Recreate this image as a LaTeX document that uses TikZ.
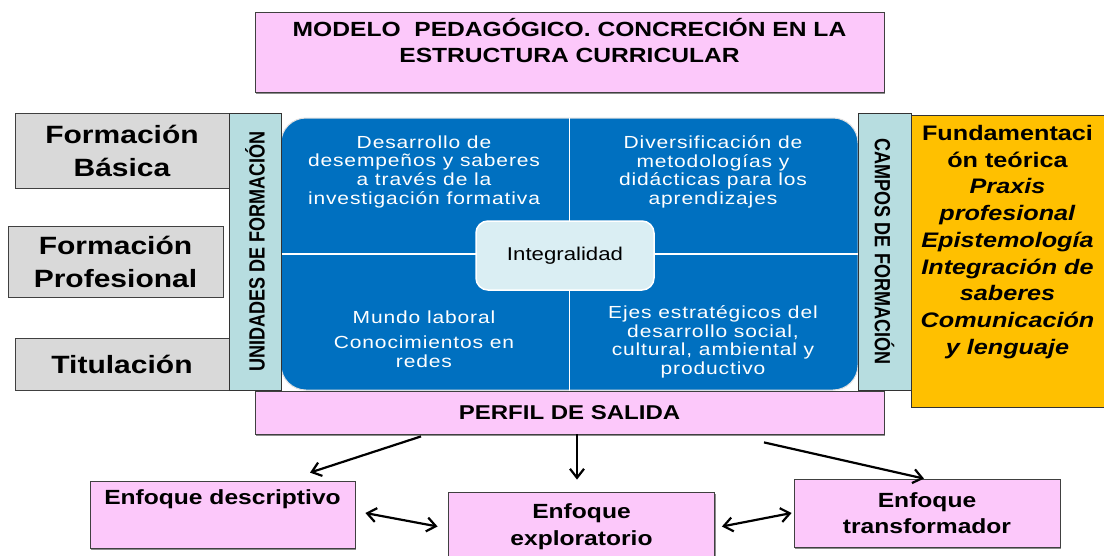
\documentclass[tikz,border=0pt]{standalone}
\usepackage{fontspec}
\setmainfont[FakeStretch=1.2]{Liberation Sans}
\newfontfamily\narrowfont[FakeStretch=0.82]{Liberation Sans}
\newfontfamily\widefont[FakeStretch=1.2, LetterSpace=5]{Liberation Sans}
\usetikzlibrary{positioning,arrows.meta,shadows}

\definecolor{pinkfill}{HTML}{FCC8FA}
\definecolor{grayfill}{HTML}{D9D9D9}
\definecolor{barfill}{HTML}{B7DDE0}
\definecolor{coreblue}{HTML}{0070C0}
\definecolor{integfill}{HTML}{DAEEF3}
\definecolor{orangefill}{HTML}{FFC000}

\tikzset{
    pinkbox/.style={draw=black!75, fill=pinkfill, line width=0.8pt,
        drop shadow={shadow xshift=1.2pt, shadow yshift=-1.5pt, fill=black!45, opacity=1}},
    graybox/.style={draw=black!75, fill=grayfill, line width=1pt, align=center,
        font=\bfseries\fontsize{25}{33}\selectfont},
    sidebar/.style={draw=black!80, fill=barfill, line width=1pt,
        font=\narrowfont\bfseries\fontsize{22}{22}\selectfont},
    quadtext/.style={text=white, align=center, font=\widefont\fontsize{17.5}{18.7}\selectfont},
    boldtext/.style={align=center, font=\bfseries\fontsize{20.5}{26.5}\selectfont},
    arrowline/.style={-{Straight Barb[length=9pt,width=14pt]}, line width=2.2pt},
    twoway/.style={{Straight Barb[length=9pt,width=14pt]}-{Straight Barb[length=9pt,width=14pt]}, line width=2.2pt}
}

\begin{document}
\begin{tikzpicture}[x=1pt, y=-1pt]
    \fill[white] (0,0) rectangle (1104,555);
    \useasboundingbox (0,0) rectangle (1104,555);

    % Title
    \node[pinkbox, minimum width=629pt, minimum height=80pt] (title) at (569.5,52) {};
    \node[boldtext, below=3pt of title.north] (titletxt) {MODELO\ \ PEDAGÓGICO. CONCRECIÓN EN LA\\ESTRUCTURA CURRICULAR};

    % Units on the left
    \node[graybox, minimum width=214pt, minimum height=75pt] (basica) at (122,150.5) {Formación\\Básica};
    \node[graybox, minimum width=215pt, minimum height=71pt] (profesional) at (115.5,261.5) {Formación\\Profesional};
    \node[graybox, minimum width=214pt, minimum height=52pt] (titulacion) at (122,364) {Titulación};

    % Central block
    \node[draw=white!75!gray, fill=coreblue, line width=1pt, rounded corners=25pt,
        minimum width=577pt, minimum height=272pt] (core) at (569.5,254) {};
    \draw[white, line width=1.2pt] (core.north) -- (core.south);
    \draw[white, line width=1.2pt] (core.west) -- (core.east);

    \node[quadtext, anchor=north] (q1) at (424,132) {Desarrollo de\\desempeños y saberes\\a través de la\\investigación formativa};
    \node[quadtext, anchor=north] (q2) at (713,132) {Diversificación de\\metodologías y\\didácticas para los\\aprendizajes};
    \node[quadtext, anchor=north] (q3) at (424,307) {Mundo laboral\\[7pt]Conocimientos en\\redes};
    \node[quadtext, anchor=north] (q4) at (713,302) {Ejes estratégicos del\\desarrollo social,\\cultural, ambiental y\\productivo};

    \node[draw=white, fill=integfill, line width=1.5pt, rounded corners=12pt,
        minimum width=178pt, minimum height=69pt, font=\fontsize{18.5}{19}\selectfont] (integral) at (565,255.5) {Integralidad};

    % Side bars
    \node[sidebar, rotate=90, minimum width=277pt, minimum height=52pt] (unidades) at (255,251.5) {UNIDADES DE FORMACIÓN};
    \node[sidebar, rotate=-90, minimum width=277pt, minimum height=53pt] (campos) at (884.5,251.5) {CAMPOS DE FORMACIÓN};

    % Fields on the right
    \node[draw=black!80, fill=orangefill, line width=1pt, minimum width=193pt, minimum height=292pt] (fundam) at (1007.5,261) {};
    \node[align=center, font=\bfseries\fontsize{21}{26.75}\selectfont, below=7pt of fundam.north] (fundamtxt)
        {Fundamentaci\\ón teórica\\\textit{Praxis}\\\textit{profesional}\\\textit{Epistemología}\\\textit{Integración de}\\\textit{saberes}\\\textit{Comunicación}\\\textit{y lenguaje}};

    % Exit profile and approaches
    \node[pinkbox, minimum width=629pt, minimum height=43pt, font=\bfseries\fontsize{20}{20}\selectfont] (perfil) at (569.5,412.5) {PERFIL DE SALIDA};

    \node[pinkbox, minimum width=265pt, minimum height=67pt] (descriptivo) at (222.5,514.5) {};
    \node[boldtext, below=6pt of descriptivo.north] (descriptivotxt) {Enfoque descriptivo};
    \node[pinkbox, boldtext, minimum width=266pt, minimum height=68pt] (exploratorio) at (581.5,526.5) {Enfoque\\exploratorio};
    \node[pinkbox, boldtext, minimum width=266pt, minimum height=68pt] (transformador) at (927,513) {Enfoque\\transformador};

    % Arrows
    \draw[arrowline] ([xshift=-148.5pt, yshift=-2pt]perfil.south) -- ([xshift=87.5pt, yshift=8pt]descriptivo.north);
    \draw[arrowline] ([xshift=7.5pt]perfil.south) -- ([xshift=-4.5pt, yshift=12.5pt]exploratorio.north);
    \draw[arrowline] ([xshift=194.5pt, yshift=-8pt]perfil.south) -- ([xshift=-3pt]transformador.north);
    \draw[twoway] ([xshift=10pt, yshift=1.5pt]descriptivo.east) -- ([xshift=-10.5pt]exploratorio.west);
    \draw[twoway] ([xshift=7pt]exploratorio.east) -- ([xshift=-2pt]transformador.west);
\end{tikzpicture}
\end{document}
